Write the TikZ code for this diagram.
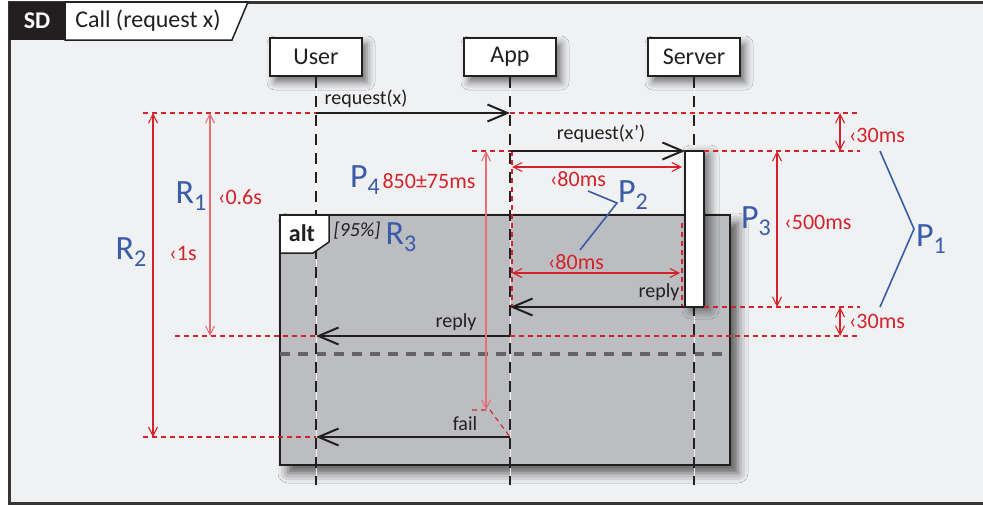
\documentclass[tikz,border=0pt]{standalone}
\usepackage{fontspec}
\setmainfont{Carlito}
\usetikzlibrary{arrows.meta,shadows.blur,positioning}

\definecolor{FrameBg}{HTML}{F0F1F3}
\definecolor{AltGray}{HTML}{BCBDC1}
\definecolor{InkBlack}{HTML}{231F20}
\definecolor{DimRed}{HTML}{D2232A}
\definecolor{NoteBlue}{HTML}{3A5BA8}

\newcommand\lowidx[1]{\raisebox{-7pt}{\fontsize{24}{24}\selectfont #1}}

\tikzset{
    LifeHead/.style = {%
        draw = InkBlack,
        line width = 2pt,
        fill = white,
        minimum width = 92pt,
        minimum height = 38pt,
        inner sep = 0pt,
        text = InkBlack,
        font = \fontsize{24}{28}\selectfont,
        blur shadow = {shadow xshift=5pt, shadow yshift=-6pt,
                       shadow blur radius=8pt, shadow opacity=55}},
    LifeLine/.style = {draw=InkBlack, line width=2.5pt, dash pattern=on 11pt off 8pt},
    LifePale/.style = {draw=white, line width=.8pt, opacity=.8},
    ActBox/.style = {%
        draw = InkBlack, line width = 2pt, fill = white,
        minimum width = 19pt, minimum height = 156pt, inner sep = 0pt,
        blur shadow = {shadow xshift=6pt, shadow yshift=-3pt,
                       shadow blur radius=9pt, shadow opacity=55}},
    MsgArrow/.style = {draw=InkBlack, line width=2pt,
        -{Straight Barb[length=20pt,width=17pt,line width=2pt]}},
    MsgText/.style = {text=InkBlack, font=\fontsize{20}{22}\selectfont, inner sep=1pt},
    GuideLine/.style = {draw=DimRed, line width=1.1pt, dash pattern=on 5pt off 4pt},
    DimArrow/.style = {draw=DimRed, line width=1.1pt,
        {Straight Barb[length=9pt,width=9pt,line width=1.1pt]}-{Straight Barb[length=9pt,width=9pt,line width=1.1pt]}},
    DimText/.style = {text=DimRed, font=\fontsize{22}{24}\selectfont, inner sep=0pt},
    NoteLine/.style = {draw=NoteBlue, line width=1.6pt, line join=miter},
    NoteText/.style = {text=NoteBlue, font=\fontsize{34}{36}\selectfont, inner sep=0pt},
}

\begin{document}
\begin{tikzpicture}[x=1pt,y=-1pt]
    \useasboundingbox (0,0) rectangle (983,506);
    % frame
    \fill[FrameBg] (9,2) rectangle (990,503);
    \draw[draw=InkBlack!90, line width=3pt] (990,2) -- (9,2) -- (9,503) -- (990,503);
    \fill[InkBlack] (9,2) rectangle (65,40);
    \draw[draw=InkBlack, line width=1.5pt, fill=white] (65,2) -- (248,2) -- (232,40) -- (65,40) -- cycle;
    \node[text=white, font=\bfseries\fontsize{24}{28}\selectfont] (sd) at (37,21) {SD};
    \node[text=InkBlack, font=\fontsize{24}{28}\selectfont] (title) at (148,21) {Call (request x)};

    % alt fragment
    \draw[draw=InkBlack, line width=2pt, fill=AltGray,
        blur shadow={shadow xshift=8pt, shadow yshift=-8pt, shadow blur radius=10pt, shadow opacity=65}]
        (280,215) rectangle (730,465);
    \draw[draw=InkBlack!70, line width=4pt, dash pattern=on 10pt off 8pt] (280,354) -- (730,354);

    % lifelines
    \node[LifeHead] (user) at (316,57) {User};
    \node[LifeHead] (app) at (510,57) {App};
    \node[LifeHead] (server) at (694,57) {Server};
    \foreach \who/\xx in {user/316, app/510, server/694}{
        \coordinate (\who end) at (\xx,485);
        \draw[LifePale] (\who.south) -- (\who end);
        \draw[LifeLine] (\who.south) -- (\who end);
    }
    \node[ActBox] (act) at (694.5,229) {};

    % alt tag over the lifeline
    \draw[draw=InkBlack, line width=1.5pt, fill=white]
        (280,215) -- (329,215) -- (329,242) -- (313,253) -- (280,253) -- cycle;
    \node[text=InkBlack, font=\bfseries\fontsize{24}{28}\selectfont] (alt) at (302,233) {alt};
    \node[text=InkBlack, font=\itshape\fontsize{20}{22}\selectfont] (guard) at (357,231) {[95\%]};

    % message points
    \coordinate (u1) at (316,113);
    \coordinate (a1) at (510,113);
    \coordinate (a2) at (510,151);
    \coordinate (s2) at (685,151);
    \coordinate (s3) at (685,307);
    \coordinate (a3) at (510,307);
    \coordinate (a4) at (510,336);
    \coordinate (u4) at (316,336);
    \coordinate (a5) at (510,437);
    \coordinate (u5) at (316,437);

    % red guide lines
    \draw[GuideLine] (143,113) -- (u1);
    \draw[GuideLine] (a1) -- (860,113);
    \draw[GuideLine] (472,151) -- (a2);
    \draw[GuideLine] (704,151) -- (860,151);
    \draw[GuideLine] (704,307) -- (860,307);
    \draw[GuideLine] (175,336) -- (u4);
    \draw[GuideLine] (a4) -- (860,336);
    \draw[GuideLine] (143,437) -- (u5);
    \draw[GuideLine] (512,151) -- (512,307);
    \draw[GuideLine] (682,223) -- (682,307);
    \draw[GuideLine] (472,410) -- (490,410) -- (a5);

    % messages
    \draw[MsgArrow] (u1) -- (a1);
    \draw[MsgArrow] (a2) -- (s2);
    \draw[MsgArrow] (s3) -- (a3);
    \draw[MsgArrow] (a4) -- (u4);
    \draw[MsgArrow] (a5) -- (u5);
    \node[MsgText] (m1) at (366,99) {request(x)};
    \node[MsgText] (m2) at (601,134) {request(x’)};
    \node[MsgText] (m3) at (659,292) {reply};
    \node[MsgText] (m4) at (456,322) {reply};
    \node[MsgText] (m5) at (465,424) {fail};

    % timing constraints
    \draw[DimArrow] (153,113) -- (153,437);
    \draw[DimArrow, draw=DimRed!65] (210,113) -- (210,336);
    \draw[DimArrow, draw=DimRed!65] (486,151) -- (486,410);
    \draw[DimArrow] (777,151) -- (777,307);
    \draw[DimArrow] (840,113) -- (840,151);
    \draw[DimArrow] (840,307) -- (840,336);
    \draw[DimArrow] (512,167) -- (682,167);
    \draw[DimArrow] (512,273) -- (680,273);
    \node[DimText] (t1) at (240,197) {‹0.6s};
    \node[DimText] (t2) at (183,253) {‹1s};
    \node[DimText] (t4) at (429,181) {850±75ms};
    \node[DimText] (t3) at (818,222) {‹500ms};
    \node[DimText] (t5) at (877,135) {‹30ms};
    \node[DimText] (t6) at (877,321) {‹30ms};
    \node[DimText] (t7) at (578,179) {‹80ms};
    \node[DimText] (t8) at (576,262) {‹80ms};

    % requirement labels
    \node[NoteText] (r1) at (191,196) {R\lowidx{1}};
    \node[NoteText] (r2) at (131,252) {R\lowidx{2}};
    \node[NoteText] (r3) at (401,237) {R\lowidx{3}};
    \node[NoteText] (p4) at (365,180) {P\lowidx{4}};
    \node[NoteText] (p3) at (756,221) {P\lowidx{3}};
    \node[NoteText] (p2) at (633,195) {P\lowidx{2}};
    \node[NoteText] (p1) at (931,239) {P\lowidx{1}};
    \draw[NoteLine] (588,191) -- (617,203) -- (580,250);
    \draw[NoteLine] (880,151) -- (914,229) -- (880,307);
\end{tikzpicture}
\end{document}
